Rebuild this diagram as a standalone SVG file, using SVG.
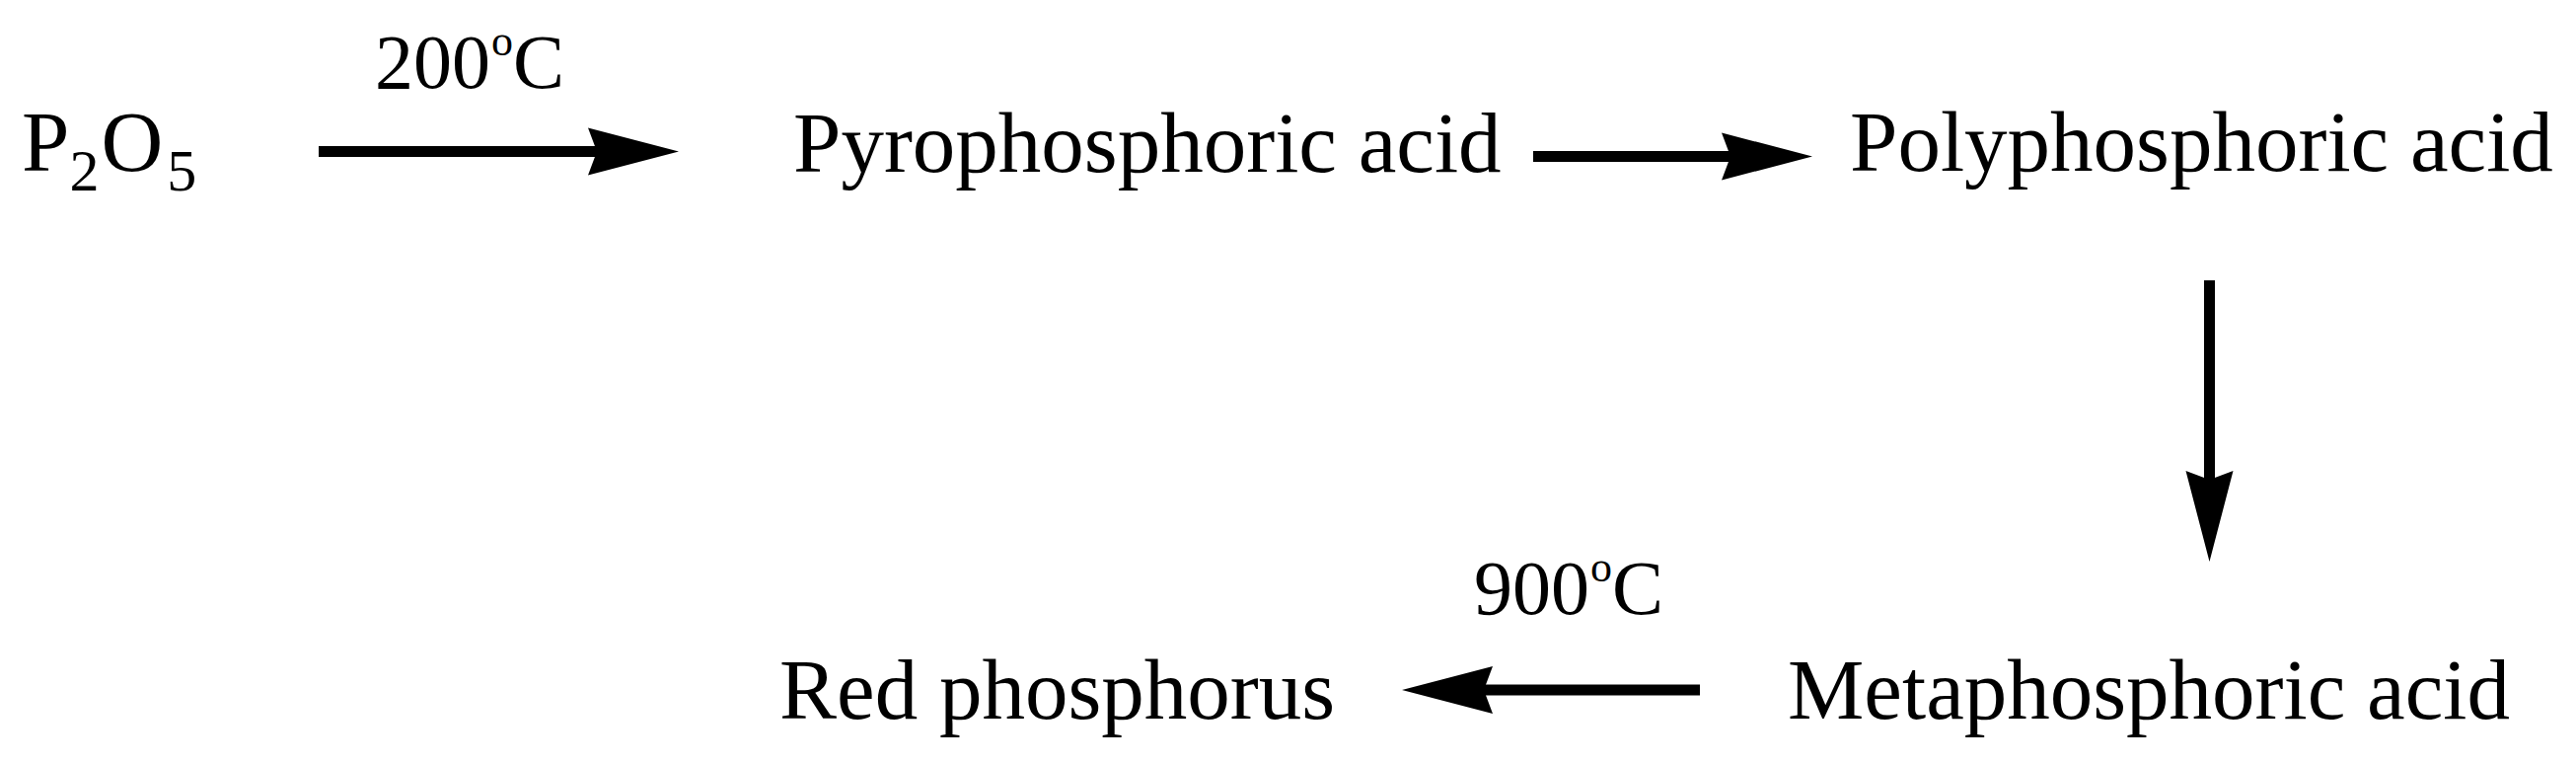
<svg xmlns="http://www.w3.org/2000/svg" width="2611" height="774" viewBox="0 0 2611 774">
<style>
text{font-family:"Liberation Serif","Times New Roman",serif;fill:#000}
.n{font-size:87px}
.lbl{font-size:78px}
.sub{font-size:60px}
.sup{font-size:44px}
.c{stroke:#000;stroke-width:11;fill:none;marker-end:url(#ah)}
</style>
<defs>
<marker id="ah" markerUnits="userSpaceOnUse" viewBox="0 -25 93 50" markerWidth="93" markerHeight="50" refX="9" refY="0" orient="auto">
<path d="M0,-24 L92,0 L0,24 L9,0 Z" fill="#000"/>
</marker>
</defs>
<rect width="2611" height="774" fill="#fff"/>
<g id="p2o5"><text class="n" x="22" y="173">P<tspan class="sub" dy="20">2</tspan><tspan dy="-20" dx="2">O</tspan><tspan class="sub" dy="20" dx="4">5</tspan></text></g>
<g id="pyrophosphoric"><text class="n" x="804" y="174">Pyrophosphoric acid</text></g>
<g id="polyphosphoric"><text class="n" x="1875" y="173">Polyphosphoric acid</text></g>
<g id="metaphosphoric"><text class="n" x="1812" y="728">Metaphosphoric acid</text></g>
<g id="redphosphorus"><text class="n" x="790" y="728">Red phosphorus</text></g>
<g id="connectors">
<line class="c" x1="323" y1="153.5" x2="605" y2="153.5"/>
<line class="c" x1="1554" y1="158.5" x2="1754" y2="158.5"/>
<line class="c" x1="2239.5" y1="284" x2="2239.5" y2="486"/>
<line class="c" x1="1723" y1="699" x2="1504" y2="699"/>
<text class="lbl" x="380" y="89">200<tspan class="sup" dy="-33" dx="1">o</tspan><tspan dy="33">C</tspan></text>
<text class="lbl" x="1494" y="622">900<tspan class="sup" dy="-33" dx="1">o</tspan><tspan dy="33">C</tspan></text>
</g>
</svg>
